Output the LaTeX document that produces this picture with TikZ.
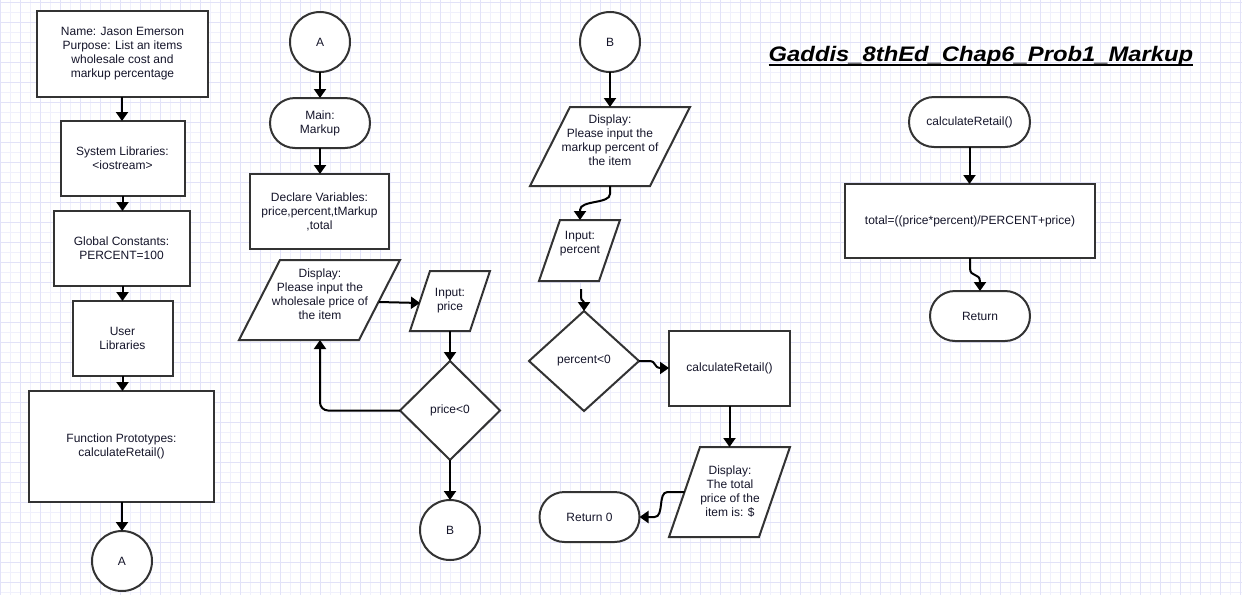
\documentclass[tikz,border=0pt]{standalone}
\usepackage{fontspec}
\setmainfont{Liberation Sans}
\usetikzlibrary{arrows.meta,calc}
\definecolor{txtc}{HTML}{15152A}
\definecolor{bord}{HTML}{333333}
\definecolor{gmin}{HTML}{F0F0FC}
\definecolor{gmaj}{HTML}{E2E2F8}
\tikzset{
  base/.style={inner sep=0pt, outer sep=0pt, font=\fontsize{12}{14}\selectfont, text=txtc, align=center},
  proc/.style={base, draw=bord, line width=2pt, fill=white},
  term/.style={proc, rounded corners=25pt},
  conn/.style={proc, circle, minimum size=60},
  shapeb/.style={draw=bord, line width=2pt, fill=white, line join=miter},
  arr/.style={draw=black, line width=2pt, -{Triangle[length=9pt,width=12pt]}},
}
\newcommand{\parashape}[6]{%
  \node[base, minimum width=#4, minimum height=#5] (#1) at (#2,#3) {};
  \draw[shapeb] ([xshift=#6pt]#1.north west) -- (#1.north east) -- ([xshift=-#6pt]#1.south east) -- (#1.south west) -- cycle;
}
\newcommand{\diamshape}[5]{%
  \node[base, minimum width=#4, minimum height=#5] (#1) at (#2,#3) {};
  \draw[shapeb] (#1.north) -- (#1.east) -- (#1.south) -- (#1.west) -- cycle;
}
\begin{document}
\begin{tikzpicture}[x=1pt,y=-1pt]
\useasboundingbox (0,0) rectangle (1242,595);
\fill[white] (0,0) rectangle (1242,595);
% grid
\foreach \x in {0,10,...,1240} \draw[gmin, line width=0.8pt] (\x,0) -- (\x,595);
\foreach \y in {2,12,...,592} \draw[gmin, line width=0.8pt] (0,\y) -- (1242,\y);
\foreach \x in {0,20,...,1240} \draw[gmaj, line width=0.8pt] (\x,0) -- (\x,595);
\foreach \y in {2,22,...,592} \draw[gmaj, line width=0.8pt] (0,\y) -- (1242,\y);

% ---------- column 1
\node[proc, minimum width=171, minimum height=86] (b1) at (122.5,54) {Name: Jason Emerson\\Purpose: List an items\\wholesale cost and\\markup percentage};
\node[proc, minimum width=124, minimum height=75] (b2) at (122.5,158.5) {System Libraries:\\<iostream>};
\node[proc, minimum width=136, minimum height=75] (b3) at (121.5,248.5) {Global Constants:\\PERCENT=100};
\node[proc, minimum width=100, minimum height=75] (b4) at (122.5,338.5) {User\\Libraries};
\node[proc, minimum width=185, minimum height=111] (b5) at (121.5,446.5) {Function Prototypes:\\calculateRetail()};
\node[conn] (cA1) at (122,561) {A};
\draw[arr] (b1.south -| 122,0) -- (122,121);
\draw[arr] (b2.south) -- (b2.south |- b3.north);
\draw[arr] (b3.south -| b2.south) -- (b2.south |- b4.north);
\draw[arr] (b4.south) -- (b4.south |- b5.north);
\draw[arr] (b5.south -| cA1.north) -- (cA1.north);

% ---------- column 2
\node[conn] (cA2) at (320,42) {A};
\node[term, minimum width=100, minimum height=50] (t1) at (320,123) {Main:\\Markup};
\node[proc, minimum width=139, minimum height=75] (b6) at (319.5,211.5) {Declare Variables:\\price,percent,tMarkup\\,total};
\parashape{p1}{319.5}{300}{161}{80}{41}
\node[base] (p1t) at (320,294) {Display:\\Please input the\\wholesale price of\\the item};
\parashape{p2}{450}{301}{80}{60}{20}
\node[base] (p2t) at (450,300.5) {Input:\\price};
\diamshape{d1}{450}{410.5}{100}{99}
\node[base] (d1t) at (450,410.5) {price<0};
\node[conn] (cB1) at (450,530) {B};
\draw[arr] (cA2.south) -- (t1.north -| cA2.south);
\draw[arr] (t1.south) -- (t1.south |- b6.north);
\draw[arr] ([xshift=-21pt,yshift=-2pt]p1.east) -- ([xshift=10pt,yshift=-2pt]p2.west);
\draw[arr] (p2.south) -- (d1.north);
\draw[arr, rounded corners=8pt] (d1.west) -| ([xshift=0.5pt]p1.south);
\draw[arr] (d1.south) -- (cB1.north);

% ---------- column 3
\node[conn] (cB2) at (610,42) {B};
\parashape{p3}{610}{146.5}{160}{79}{40}
\node[base] (p3t) at (610,140) {Display:\\Please input the\\markup percent of\\the item};
\parashape{p4}{579.5}{250.5}{81}{61}{21}
\node[base] (p4t) at (580,244) {Input:\\percent};
\diamshape{d2}{584}{361}{110}{100}
\node[base] (d2t) at (584,361) {percent<0};
\node[proc, minimum width=121, minimum height=75] (b7) at (729.5,368.5) {calculateRetail()};
\parashape{p5}{729.5}{492}{121}{90}{31}
\node[base] (p5t) at (730,492) {Display:\\The total\\price of the\\item is: \$};
\node[term, minimum width=100, minimum height=50] (t2) at (589.5,517) {Return 0};
\coordinate (c4s) at (581,289);
\draw[arr] (cB2.south) -- (cB2.south |- p3.north);
\draw[arr] (p3.south) -- ++(0,8) .. controls +(0,10) and +(0,-10) .. ([yshift=10pt]p4t |- p4.north) -- (p4t |- p4.north);
\draw[arr] (c4s) -- ++(0,8) .. controls +(0,5) and +(0,-5) .. ([yshift=7pt]d2.north) -- (d2.north);
\draw[arr] (d2.east) -- ++(10,0) .. controls +(8,0) and +(-8,0) .. ([xshift=-8pt,yshift=0.5pt]b7.west) -- ([yshift=0.5pt]b7.west);
\draw[arr] (b7.south) -- (b7.south |- p5.north);
\draw[arr] ([xshift=15.5pt]p5.west) -- ++(-17,0) .. controls +(-10,0) and +(10,0) .. ([xshift=15pt]t2.east) -- (t2.east);

% ---------- column 4
\node[base, anchor=base, text=black] (title) at (981,61) {\fontsize{20}{24}\selectfont\bfseries\itshape\scalebox{1.19}[1.05]{Gaddis\_8thEd\_Chap6\_Prob1\_Markup}};
\draw[black, line width=2pt] ([yshift=-3.5pt]title.base west) -- ([yshift=-3.5pt]title.base east);
\node[term, minimum width=121, minimum height=50] (t3) at (969.5,122) {calculateRetail()};
\node[proc, minimum width=250, minimum height=74] (b8) at (970,221) {total=((price*percent)/PERCENT+price)};
\node[term, minimum width=100, minimum height=50] (t4) at (980,316) {Return};
\draw[arr] (t3.south) -- (t3.south |- b8.north);
\draw[arr] (b8.south) -- ++(0,10) .. controls +(0,10) and +(0,-10) .. ([yshift=9pt]t4.north) -- (t4.north);
\end{tikzpicture}
\end{document}
